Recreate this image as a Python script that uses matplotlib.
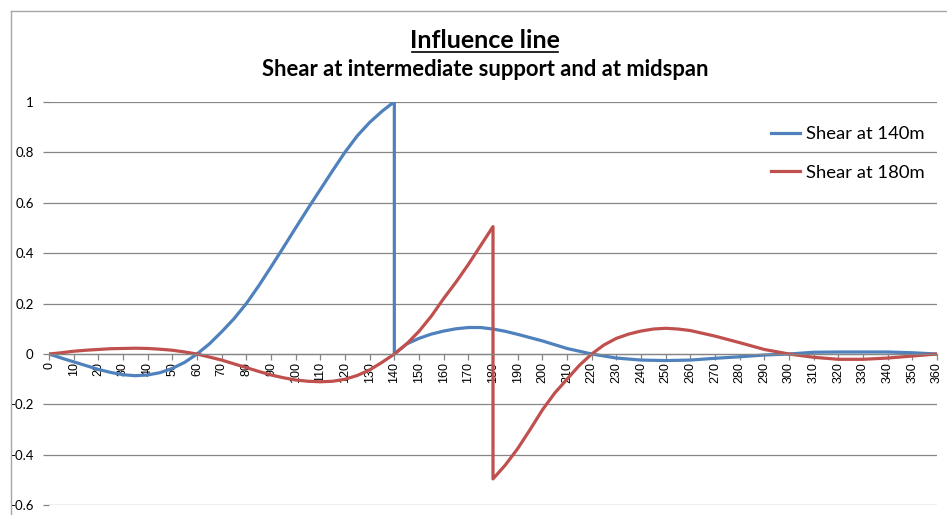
import matplotlib
matplotlib.use("Agg")
import matplotlib.pyplot as plt
from matplotlib.lines import Line2D

# Influence line ordinates along the 360 m deck (x in m)
x_140 = [0, 5, 10, 15, 20, 25, 30, 35, 40, 45, 50, 55, 60, 65, 70, 75, 80, 85, 90, 95,
         100, 105, 110, 115, 120, 125, 130, 135, 140, 140, 145, 150, 155, 160, 165, 170,
         175, 180, 185, 190, 195, 200, 205, 210, 215, 220, 225, 230, 240, 250, 260, 270,
         280, 290, 300, 310, 320, 330, 340, 350, 360]
shear_140 = [0, -0.016, -0.031, -0.046, -0.061, -0.073, -0.082, -0.086, -0.083, -0.074,
             -0.057, -0.033, 0, 0.04, 0.088, 0.14, 0.2, 0.27, 0.345, 0.422,
             0.5, 0.577, 0.652, 0.727, 0.8, 0.865, 0.918, 0.962, 1.0, 0, 0.04, 0.062,
             0.079, 0.091, 0.1, 0.105, 0.105, 0.099, 0.09, 0.078, 0.065, 0.052, 0.037,
             0.022, 0.011, 0, -0.008, -0.016, -0.024, -0.026, -0.024, -0.017, -0.011,
             -0.004, 0, 0.007, 0.008, 0.008, 0.008, 0.005, 0]

x_180 = [0, 5, 10, 15, 20, 25, 30, 35, 40, 45, 50, 55, 60, 65, 70, 75, 80, 85, 90, 95,
         100, 105, 110, 115, 120, 125, 130, 135, 140, 145, 150, 155, 160, 165, 170, 175,
         180, 180, 185, 190, 195, 200, 205, 210, 215, 220, 225, 230, 235, 240, 245, 250,
         255, 260, 270, 280, 290, 300, 310, 320, 330, 340, 350, 360]
shear_180 = [0, 0.005, 0.011, 0.015, 0.018, 0.021, 0.022, 0.023, 0.022, 0.019, 0.015,
             0.008, 0, -0.012, -0.024, -0.039, -0.054, -0.069, -0.083, -0.094, -0.103,
             -0.108, -0.11, -0.108, -0.1, -0.085, -0.063, -0.033, 0, 0.04, 0.09, 0.15,
             0.22, 0.285, 0.355, 0.43, 0.505, -0.495, -0.44, -0.375, -0.3, -0.222,
             -0.155, -0.1, -0.045, 0, 0.036, 0.062, 0.079, 0.091, 0.099, 0.102, 0.099,
             0.093, 0.071, 0.045, 0.018, 0, -0.013, -0.021, -0.021, -0.016, -0.008, 0]

series_labels = ["Shear at 140m", "Shear at 180m"]
x_ticks = list(range(0, 361, 10))
y_ticks = [-0.6, -0.4, -0.2, 0, 0.2, 0.4, 0.6, 0.8, 1]
y_tick_labels = ["-0.6", "-0.4", "-0.2", "0", "0.2", "0.4", "0.6", "0.8", "1"]
title = "Influence line"
subtitle = "Shear at intermediate support and at midspan"

BLUE = "#4F81BD"
RED = "#C0504D"
GRID = "#868686"
FONT = "Lato"

W, H = 947, 515
fig = plt.figure(figsize=(W / 100, H / 100), dpi=100)
fig.patch.set_facecolor("white")

# plot area in pixel terms
left, right, top, bottom = 49, 937, 101.7, 505.4
ax = fig.add_axes([left / W, 1 - bottom / H, (right - left) / W, (bottom - top) / H])

# horizontal axis sits on the zero line (set before tick styling: it resets ticks)
for side in ("top", "right", "left"):
    ax.spines[side].set_visible(False)
ax.spines["bottom"].set_position(("data", 0))
ax.spines["bottom"].set_color(GRID)
ax.spines["bottom"].set_linewidth(0.9)

ax.plot(x_140, shear_140, color=BLUE, lw=2.3, label=series_labels[0], solid_joinstyle="round")
ax.plot(x_180, shear_180, color=RED, lw=2.3, label=series_labels[1], solid_joinstyle="round")

ax.set_xlim(0, 360)
ax.set_ylim(-0.6, 1)

ax.set_yticks(y_ticks)
ax.set_yticklabels(y_tick_labels, fontfamily=FONT, fontsize=9.5)
ax.yaxis.grid(True, color=GRID, lw=0.9)
ax.set_axisbelow(True)

ax.set_xticks(x_ticks)
ax.set_xticklabels([str(v) for v in x_ticks], fontfamily="Liberation Sans", fontsize=9)

ax.tick_params(axis="y", direction="out", length=4, width=0.9, color=GRID, pad=7)
ax.tick_params(axis="x", direction="out", length=4, width=0.9, color=GRID, pad=2,
               labelrotation=90)

ax.legend(loc="upper left", bbox_to_anchor=((754 - left) / (right - left), 0.98),
          frameon=False, prop={"family": FONT, "size": 13.3},
          handlelength=1.6, handletextpad=0.3, labelspacing=1.2)

# titles
fig.text(485 / W, 1 - 40 / H, title, ha="center", va="center",
         fontfamily=FONT, fontweight="bold", fontsize=18)
fig.text(485 / W, 1 - 70 / H, subtitle, ha="center", va="center",
         fontfamily=FONT, fontweight="bold", fontsize=15.8)
# underline under the main title
fig.add_artist(Line2D([412 / W, 558 / W], [1 - 52 / H, 1 - 52 / H], color="black", lw=1.2))

# chart area border
fig.add_artist(Line2D([11 / W, 11 / W], [1 - 11 / H, 0], color="#a6a6a6", lw=1))
fig.add_artist(Line2D([11 / W, 1], [1 - 11 / H, 1 - 11 / H], color="#a6a6a6", lw=1))

fig.savefig("out.png", dpi=100)
